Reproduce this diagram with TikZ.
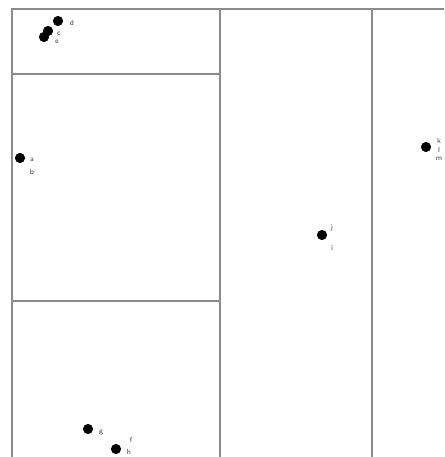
\documentclass[tikz,border=0pt]{standalone}
\begin{document}
\begin{tikzpicture}[x=1pt,y=-1pt,
  wall/.style={draw=gray!90,line width=1.2pt},
  dot/.style={circle,fill=black,draw=black,line width=0.6pt,inner sep=0pt,minimum size=9.5pt},
  lab/.style={inner sep=0pt,font=\sffamily\fontsize{7.5}{7.5}\selectfont,text=black!75}]
\useasboundingbox (0,0) rectangle (444,457);
% frame
\coordinate (tl) at (12,9);
\coordinate (tr) at (444,9);
\coordinate (bl) at (12,457);
\coordinate (v1t) at (220,9);
\coordinate (v1b) at (220,457);
\coordinate (v2t) at (372,9);
\coordinate (v2b) at (372,457);
\coordinate (h1l) at (12,74);
\coordinate (h1r) at (220,74);
\coordinate (h2l) at (12,301);
\coordinate (h2r) at (220,301);
\draw[wall] (bl) -- (tl) -- (tr);
\draw[wall] (v1t) -- (v1b);
\draw[wall] (v2t) -- (v2b);
\draw[wall] (h1l) -- (h1r);
\draw[wall] (h2l) -- (h2r);
% dots
\node[dot] (p1) at (20,158) {};
\node[lab] (la) at (32,160) {a};
\node[lab] (lb) at (32,172) {b};
\node[dot] (p2) at (58,21) {};
\node[lab] (ld) at (72,23) {d};
\node[dot] (p3) at (48,31) {};
\node[dot] (p4) at (44,37) {};
\node[lab] (lc) at (59,34) {c};
\node[lab] (le) at (57,42) {e};
\node[dot] (p5) at (88,429) {};
\node[lab] (lg) at (101,433) {g};
\node[dot] (p6) at (116,449) {};
\node[lab] (lf) at (131,440) {f};
\node[lab] (lh) at (129,452) {h};
\node[dot] (p7) at (322,235) {};
\node[lab] (lj) at (332,228) {j};
\node[lab] (li) at (332,248) {i};
\node[dot] (p8) at (426,147) {};
\node[lab] (lk) at (439,141) {k};
\node[lab] (ll) at (439,150) {l};
\node[lab] (lm) at (439,159) {m};
\end{tikzpicture}
\end{document}
